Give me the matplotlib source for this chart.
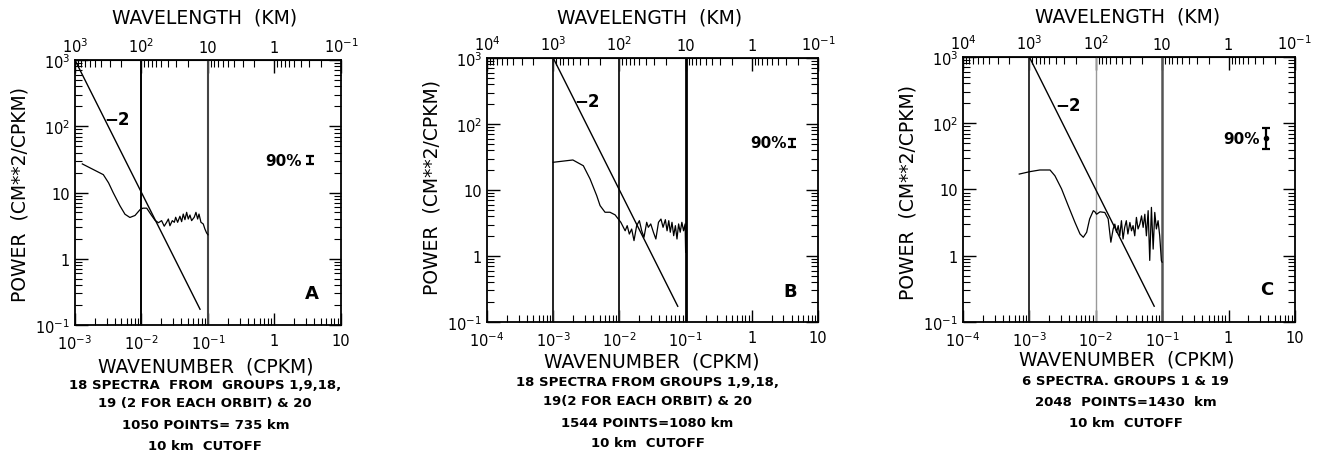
import numpy as np
import matplotlib
matplotlib.use('Agg')
import matplotlib.pyplot as plt

# Espectros: numero de onda (cpkm) y potencia (cm**2/cpkm)
freq_a = [1.29e-3, 2.67e-3, 3.2e-3, 3.75e-3, 4.75e-3, 5.65e-3, 6.7e-3, 8.0e-3, 9.5e-3,
          0.0105, 0.012, 0.014, 0.016, 0.018,
          0.0201, 0.0220, 0.0239, 0.0254, 0.0268, 0.0291, 0.0312, 0.0327, 0.0350, 0.0379,
          0.0402, 0.0425, 0.0451, 0.0478, 0.0506, 0.0536, 0.0568, 0.0622, 0.0660, 0.0700,
          0.0733, 0.0785, 0.0850, 0.0900, 0.0955, 0.100]
power_a = [27, 18.6, 14, 10, 6.3, 4.7, 4.2, 4.5, 5.5,
           5.8, 5.8, 4.6, 3.8, 3.5,
           3.76, 3.1, 3.55, 3.98, 3.15, 3.76, 3.55, 4.23, 3.55, 4.38,
           3.63, 4.73, 3.89, 5.02, 3.98, 4.57, 3.76, 4.23, 5.02, 3.98,
           4.73, 3.55, 3.35, 2.81, 2.45, 2.3]

freq_b = [1.0e-3, 1.6e-3, 1.98e-3, 2.85e-3, 3.6e-3, 4.54e-3, 5.1e-3, 6.06e-3, 7.2e-3, 8.6e-3, 0.0100,
          0.0105, 0.0122, 0.0131, 0.0141, 0.0153, 0.0166, 0.0182, 0.0200, 0.0217, 0.0235,
          0.0258, 0.0273, 0.0297, 0.0326, 0.0355, 0.0389, 0.0424, 0.0456, 0.0494, 0.0524,
          0.0556, 0.0586, 0.0622, 0.0660, 0.0700, 0.0740, 0.0783, 0.0827, 0.0877, 0.0930,
          0.0982, 0.100]
power_b = [26.3, 27.8, 28.5, 23.3, 14.7, 8.2, 5.8, 4.6, 4.6, 4.2, 3.45,
           3.24, 2.41, 2.88, 2.15, 2.56, 1.71, 2.88, 3.43, 2.41, 1.92,
           3.24, 2.72, 3.06, 2.29, 1.81, 3.24, 3.63, 2.72, 3.55, 2.41,
           3.43, 2.29, 3.24, 2.03, 2.88, 1.81, 3.06, 2.29, 3.24, 2.41,
           3.06, 1.14]

freq_c = [7.05e-4, 1.02e-3, 1.44e-3, 2.05e-3, 2.43e-3, 3.06e-3, 3.85e-3, 4.86e-3, 5.8e-3, 6.5e-3,
          7.3e-3, 8.1e-3, 9.2e-3, 9.73e-3, 0.0103, 0.0116, 0.0137, 0.0154, 0.0169, 0.0183,
          0.0194, 0.0206, 0.0218, 0.0230, 0.0244, 0.0258, 0.0273, 0.0289, 0.0305, 0.0327,
          0.0346, 0.0365, 0.0387, 0.0410, 0.0434, 0.0462, 0.0490, 0.0518, 0.0549, 0.0580,
          0.0616, 0.0651, 0.0690, 0.0733, 0.0775, 0.0820, 0.0869, 0.0920, 0.0975, 0.100]
power_c = [17.1, 18.6, 19.7, 19.7, 16.1, 10.2, 5.7, 3.2, 2.13, 1.9,
           2.26, 3.59, 4.79, 4.6, 4.23, 4.6, 4.5, 3.6, 1.6, 2.54,
           3.0, 2.26, 2.85, 2.0, 3.38, 1.79, 2.68, 3.38, 2.13, 3.18,
           2.38, 2.85, 2.0, 3.79, 2.54, 3.0, 4.0, 2.68, 4.23, 2.0,
           4.79, 0.85, 5.37, 1.26, 4.51, 2.54, 3.38, 2.0, 0.84, 0.8]

# Recta de pendiente -2
slope_wavenumber = [1e-3, 0.076]
slope_power = [1000, 0.173]

# Cortes verticales
cutoffs_a = [1e-2, 1e-1]
cutoffs_bc = [1e-3, 1e-2, 1e-1]

# Intervalo de confianza del 90%: x, minimo, maximo
ci_a = [3.4, 26.9, 35.5]
ci_b = [4.0, 44.7, 59.0]
ci_c = [3.66, 41.0, 85.0]

# Etiquetas de los ejes
wn_ticks = [1e-4, 1e-3, 1e-2, 1e-1, 1, 10]
wn_labels = ['$10^{-4}$', '$10^{-3}$', '$10^{-2}$', '$10^{-1}$', '1', '10']
wl_ticks = [1e4, 1e3, 1e2, 10, 1, 0.1]
wl_labels = ['$10^{4}$', '$10^{3}$', '$10^{2}$', '10', '1', '$10^{-1}$']
pw_ticks = [0.1, 1, 10, 100, 1000]
pw_labels = ['$10^{-1}$', '1', '10', '$10^{2}$', '$10^{3}$']

notes_a = ['18 SPECTRA  FROM  GROUPS 1,9,18,', '19 (2 FOR EACH ORBIT) & 20',
           '1050 POINTS= 735 km', '10 km  CUTOFF']
notes_b = ['18 SPECTRA FROM GROUPS 1,9,18,', '19(2 FOR EACH ORBIT) & 20',
           '1544 POINTS=1080 km', '10 km  CUTOFF']
notes_c = ['6 SPECTRA. GROUPS 1 & 19', '2048  POINTS=1430  km', '10 km  CUTOFF']

plt.rcParams['font.family'] = 'DejaVu Sans'
plt.rcParams['mathtext.default'] = 'regular'


def inv(x):
    x = np.array(x, dtype=float)
    out = np.full_like(x, np.inf)
    ok = x != 0
    out[ok] = 1.0 / x[ok]
    return out


panels = [
    dict(rect=[0.0567, 0.2851, 0.2012, 0.5811], xmin=1e-3, freq=freq_a, power=power_a,
         cuts=cutoffs_a, cut_styles=[('black', 1.4), ('#444444', 1.5)],
         ci=ci_a, ci_dot=False, pct=(2.6, 30), minus2=(4.3e-3, 129), letter='A', letter_xy=(3.6, 0.30),
         notes=notes_a, title_xy=(0.489, 1.162), ylab_xy=(-0.207, 0.498), xlab_xy=(0.492, -0.154),
         notes_x=0.49, notes_y=[-0.226, -0.294, -0.377, -0.453]),
    dict(rect=[0.3684, 0.2917, 0.2504, 0.5789], xmin=1e-4, freq=freq_b, power=power_b,
         cuts=cutoffs_bc, cut_styles=[('#222222', 1.4), ('#222222', 1.4), ('black', 2.0)],
         ci=ci_b, ci_dot=False, pct=(3.4, 53), minus2=(3.2e-3, 224), letter='B', letter_xy=(3.8, 0.295),
         notes=notes_b, title_xy=(0.492, 1.155), ylab_xy=(-0.166, 0.515), xlab_xy=(0.498, -0.147),
         notes_x=0.485, notes_y=[-0.227, -0.299, -0.379, -0.455]),
    dict(rect=[0.7284, 0.2917, 0.2511, 0.5811], xmin=1e-4, freq=freq_c, power=power_c,
         cuts=cutoffs_bc, cut_styles=[('#333333', 1.4), ('#999999', 1.0), ('#555555', 1.8)],
         ci=ci_c, ci_dot=True, pct=(2.97, 58), minus2=(3.8e-3, 188), letter='C', letter_xy=(3.8, 0.31),
         notes=notes_c, title_xy=(0.4955, 1.153), ylab_xy=(-0.166, 0.494), xlab_xy=(0.493, -0.14),
         notes_x=0.49, notes_y=[-0.219, -0.301, -0.379]),
]

fig = plt.figure(figsize=(13.22, 4.56), dpi=100)

for p in panels:
    ax = fig.add_axes(p['rect'])
    ax.set_xscale('log')
    ax.set_yscale('log')

    for c, (col, lw) in zip(p['cuts'], p['cut_styles']):
        ax.axvline(c, color=col, lw=lw)
    ax.plot(slope_wavenumber, slope_power, color='black', lw=1.0)
    ax.plot(p['freq'], p['power'], color='black', lw=0.9)

    # Barra del 90%
    x, lo, hi = p['ci']
    ymid = np.sqrt(lo * hi)
    ax.errorbar([x], [ymid], yerr=[[ymid - lo], [hi - ymid]], fmt='o' if p['ci_dot'] else 'none',
                ms=3, color='black', ecolor='black', elinewidth=1.6, capsize=3, capthick=1.6)
    ax.text(p['pct'][0], p['pct'][1], '90%', ha='right', va='center', fontsize=11, fontweight='bold')
    ax.text(p['minus2'][0], p['minus2'][1], '\u22122', ha='center', va='center', fontsize=12, fontweight='bold')
    ax.text(p['letter_xy'][0], p['letter_xy'][1], p['letter'], ha='center', va='center',
            fontsize=13, fontweight='bold')

    # Ejes: solo las marcas dentro del rango de cada panel
    xt = [(t, l) for t, l in zip(wn_ticks, wn_labels) if t >= p['xmin']]
    ax.set_xticks([t for t, _ in xt], labels=[l for _, l in xt])
    ax.set_xlim(p['xmin'], 10)
    ax.set_yticks(pw_ticks, labels=pw_labels)
    ax.set_ylim(0.1, 1000)
    ax.tick_params(which='both', direction='in', top=False, right=True, labelsize=10.5)
    ax.tick_params(axis='x', pad=6)
    ax.tick_params(which='major', length=9, width=1.0)
    ax.tick_params(which='minor', length=5, width=0.8)
    for s in ax.spines.values():
        s.set_linewidth(1.3)

    top = ax.secondary_xaxis('top', functions=(inv, inv))
    tt = [(t, l) for t, l in zip(wl_ticks, wl_labels) if t <= 1.0 / p['xmin']]
    top.set_xticks([t for t, _ in tt], labels=[l for _, l in tt])
    top.tick_params(which='both', direction='in', labelsize=10.5)
    top.tick_params(which='major', length=9, width=1.0)
    top.tick_params(which='minor', length=5, width=0.8)

    ax.text(*p['title_xy'], 'WAVELENGTH  (KM)', transform=ax.transAxes,
            ha='center', va='center', fontsize=13.5)
    ax.text(*p['xlab_xy'], 'WAVENUMBER  (CPKM)', transform=ax.transAxes,
            ha='center', va='center', fontsize=13.5)
    ax.text(*p['ylab_xy'], 'POWER  (CM**2/CPKM)', transform=ax.transAxes,
            ha='center', va='center', rotation=90, fontsize=13.5)
    for line, y in zip(p['notes'], p['notes_y']):
        ax.text(p['notes_x'], y, line, transform=ax.transAxes, ha='center', va='center',
                fontsize=9.5, fontweight='bold')

fig.savefig('out.png', dpi=100)
